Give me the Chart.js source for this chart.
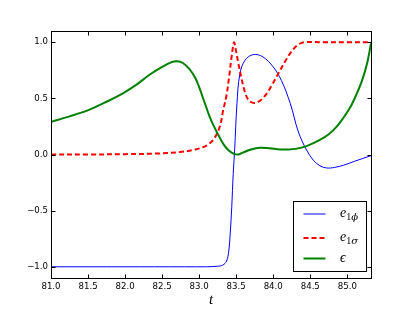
<!DOCTYPE html>
<html>
<head>
<meta charset="utf-8">
<script src="https://cdn.jsdelivr.net/npm/chart.js@4/dist/chart.umd.min.js"></script>
<style>
  html, body { margin: 0; padding: 0; background: #fff; }
  #wrap { width: 413px; height: 310px; }
</style>
</head>
<body>
<div id="wrap"><canvas id="c" width="413" height="310"></canvas></div>
<script>
// ---- data ----
const tPhi   = [81.0, 82.0, 82.8, 83.1, 83.25, 83.32, 83.37, 83.40, 83.42, 83.44, 83.46, 83.48, 83.51, 83.55, 83.62, 83.73, 83.86, 84.0, 84.11, 84.23, 84.34, 84.45, 84.54, 84.63, 84.72, 84.83, 84.95, 85.1, 85.32];
const ePhi   = [-1.0, -1.0, -1.0, -1.0, -0.995, -0.985, -0.95, -0.86, -0.70, -0.47, -0.17, 0.05, 0.45, 0.72, 0.84, 0.89, 0.87, 0.78, 0.66, 0.455, 0.20, 0.04, -0.05, -0.10, -0.12, -0.115, -0.095, -0.06, -0.01];

const tSigma = [81.0, 81.5, 82.0, 82.4, 82.74, 82.95, 83.1, 83.2, 83.28, 83.32, 83.37, 83.41, 83.44, 83.47, 83.49, 83.53, 83.6, 83.66, 83.73, 83.8, 83.87, 83.93, 84.0, 84.09, 84.17, 84.25, 84.33, 84.42, 84.7, 85.0, 85.32];
const eSigma = [0.0, 0.0, 0.003, 0.008, 0.022, 0.045, 0.08, 0.14, 0.25, 0.38, 0.53, 0.72, 0.88, 1.0, 0.95, 0.81, 0.60, 0.49, 0.46, 0.47, 0.51, 0.56, 0.64, 0.745, 0.84, 0.92, 0.975, 1.0, 1.0, 1.0, 1.0];

const tEps   = [81.0, 81.25, 81.52, 81.75, 81.97, 82.15, 82.33, 82.5, 82.62, 82.7, 82.78, 82.87, 82.95, 83.0, 83.07, 83.14, 83.2, 83.27, 83.33, 83.4, 83.47, 83.53, 83.6, 83.7, 83.82, 83.95, 84.09, 84.2, 84.3, 84.45, 84.63, 84.75, 84.86, 84.95, 85.04, 85.12, 85.2, 85.27, 85.32];
const eps    = [0.29, 0.34, 0.40, 0.47, 0.545, 0.62, 0.71, 0.78, 0.82, 0.83, 0.815, 0.76, 0.68, 0.60, 0.47, 0.34, 0.25, 0.16, 0.09, 0.035, 0.006, 0.0, 0.02, 0.045, 0.06, 0.055, 0.045, 0.045, 0.05, 0.075, 0.13, 0.18, 0.25, 0.33, 0.42, 0.53, 0.66, 0.82, 0.99];

const xTicks = [81.0, 81.5, 82.0, 82.5, 83.0, 83.5, 84.0, 84.5, 85.0];
const yTicks = [-1.0, -0.5, 0.0, 0.5, 1.0];
const xRange = [81.0, 85.32];
const yRange = [-1.1, 1.1];

const legendMain = ['e', 'e', '\u03F5'];
const legendSub  = [['1', '\u03D5'], ['1', '\u03C3'], null];

function pts(xs, ys) { return xs.map((x, i) => ({ x: x, y: ys[i] })); }

const tickFont = { family: 'DejaVu Sans', size: 8.6 };

const frameTicks = {
  id: 'frameTicks',
  afterDraw(chart) {
    const ctx = chart.ctx, a = chart.chartArea;
    const xs = chart.scales.x, ys = chart.scales.y;
    const L = Math.round(a.left) + 0.5, R = Math.round(a.right) + 0.5;
    const T = Math.round(a.top) + 0.5, B = Math.round(a.bottom) + 0.5;
    ctx.save();
    ctx.strokeStyle = '#000';
    ctx.lineWidth = 1;
    ctx.beginPath();
    xTicks.forEach(v => {
      const px = Math.round(xs.getPixelForValue(v)) + 0.5;
      ctx.moveTo(px, B); ctx.lineTo(px, B - 4);
      ctx.moveTo(px, T); ctx.lineTo(px, T + 4);
    });
    yTicks.forEach(v => {
      const py = Math.round(ys.getPixelForValue(v)) + 0.5;
      ctx.moveTo(L, py); ctx.lineTo(L + 4, py);
      ctx.moveTo(R, py); ctx.lineTo(R - 4, py);
    });
    ctx.stroke();
    ctx.strokeRect(L, T, R - L, B - T);

    // legend (lower right, inside plot)
    const bw = 73, bh = 70;
    const bx = Math.round(a.right) - 4.5 - bw, by = Math.round(a.bottom) - 6.5 - bh;
    ctx.fillStyle = '#fff';
    ctx.fillRect(bx, by, bw, bh);
    ctx.strokeStyle = '#000';
    ctx.strokeRect(bx, by, bw, bh);
    const rows = [by + 12.5, by + 36.5, by + 57];
    chart.data.datasets.forEach((ds, i) => {
      const y = rows[i];
      ctx.save();
      ctx.strokeStyle = ds.borderColor;
      ctx.lineWidth = ds.borderWidth;
      ctx.setLineDash(ds.borderDash || []);
      ctx.beginPath();
      ctx.moveTo(bx + 10, y); ctx.lineTo(bx + 32, y);
      ctx.stroke();
      ctx.restore();
      ctx.fillStyle = '#000';
      ctx.textBaseline = 'alphabetic';
      ctx.textAlign = 'left';
      let tx = bx + 46.5;
      ctx.font = 'italic 14px "Liberation Serif"';
      ctx.fillText(legendMain[i], tx, y + 3);
      tx += ctx.measureText(legendMain[i]).width;
      const sub = legendSub[i];
      if (sub) {
        ctx.font = '10px "Liberation Serif"';
        ctx.fillText(sub[0], tx, y + 6);
        tx += ctx.measureText(sub[0]).width;
        ctx.font = 'italic 10px "DejaVu Serif"';
        ctx.fillText(sub[1], tx, y + 6);
      }
    });
    ctx.restore();
  }
};

const fmt = v => (Math.round(v * 10) / 10).toFixed(1).replace('-', '\u2212');

new Chart(document.getElementById('c'), {
  type: 'line',
  data: {
    datasets: [
      { label: 'e1\u03D5', data: pts(tPhi, ePhi), borderColor: '#0000ff', borderWidth: 1, order: 3 },
      { label: 'e1\u03C3', data: pts(tSigma, eSigma), borderColor: '#ff0000', borderWidth: 2, borderDash: [5, 3], order: 2 },
      { label: '\u03F5', data: pts(tEps, eps), borderColor: '#008000', borderWidth: 2, order: 1 }
    ]
  },
  options: {
    responsive: false,
    animation: false,
    devicePixelRatio: 1,
    elements: {
      point: { radius: 0 },
      line: { tension: 0.35, cubicInterpolationMode: 'default', fill: false }
    },
    layout: { padding: { left: 0, right: 42, top: 31, bottom: 0 } },
    plugins: { legend: { display: false }, tooltip: { enabled: false } },
    scales: {
      x: {
        type: 'linear',
        min: xRange[0], max: xRange[1],
        grid: { display: false, drawTicks: false },
        border: { display: false },
        afterBuildTicks: s => { s.ticks = xTicks.map(v => ({ value: v })); },
        afterFit: s => { s.height = 32; },
        ticks: { font: tickFont, color: '#000', padding: 4, maxRotation: 0, autoSkip: false, callback: v => fmt(v) },
        title: { display: true, text: 't', color: '#000', font: { family: 'Liberation Serif', size: 15, style: 'italic' }, padding: { top: 0, bottom: 1 } }
      },
      y: {
        type: 'linear',
        min: yRange[0], max: yRange[1],
        grid: { display: false, drawTicks: false },
        border: { display: false },
        afterBuildTicks: s => { s.ticks = yTicks.map(v => ({ value: v })); },
        afterFit: s => { s.width = 51; },
        ticks: { font: tickFont, color: '#000', padding: 3, autoSkip: false, callback: v => fmt(v) }
      }
    }
  },
  plugins: [frameTicks]
});
</script>
</body>
</html>
